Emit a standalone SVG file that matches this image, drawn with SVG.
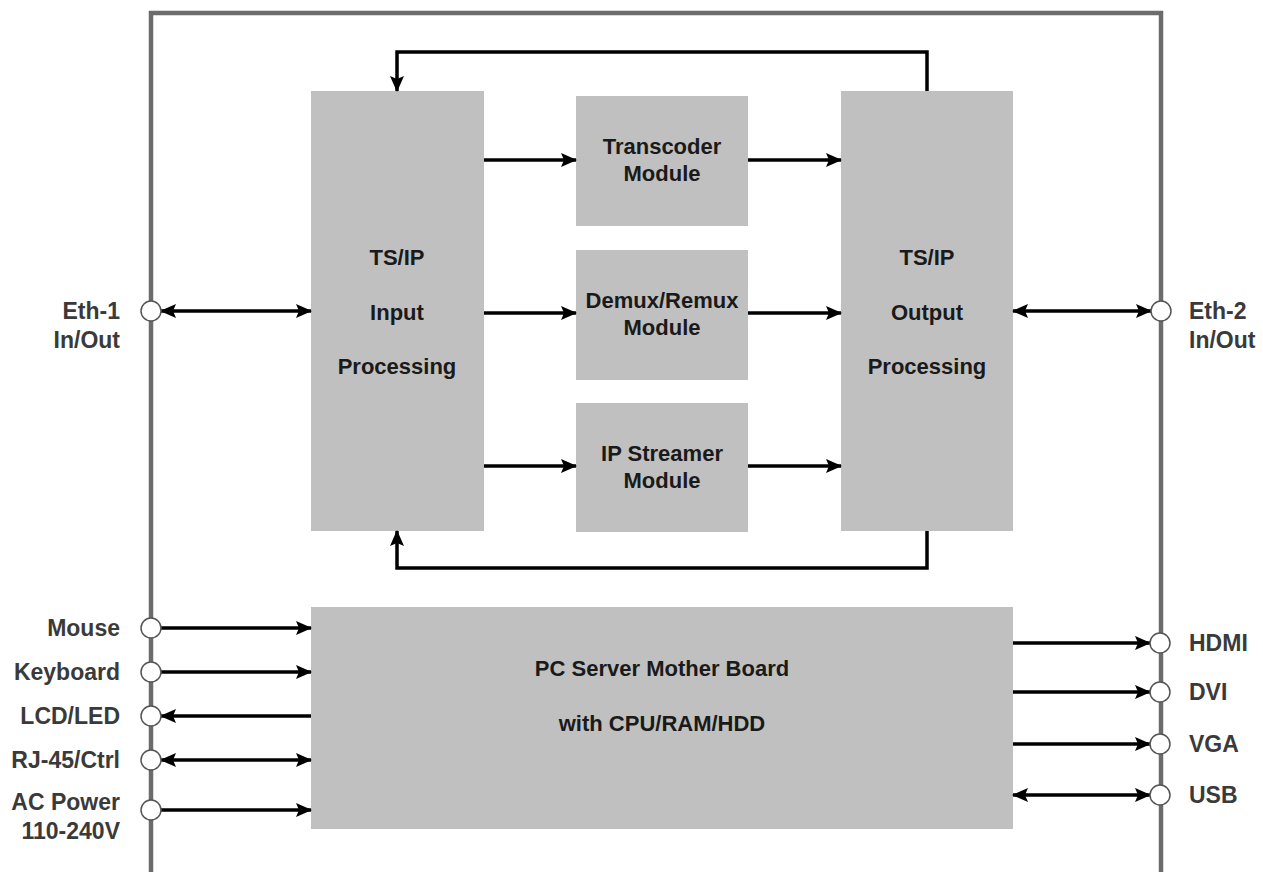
<svg xmlns="http://www.w3.org/2000/svg" width="1263" height="872" viewBox="0 0 1263 872">
  <defs>
    <marker id="arrow" viewBox="0 0 16 14" markerUnits="userSpaceOnUse" markerWidth="16" markerHeight="14" refX="15" refY="7" orient="auto-start-reverse">
      <path d="M0,0 L16,7 L0,14 L3,7 Z" fill="#000"/>
    </marker>
    <style>
      .frame { fill: none; stroke: #6c6c6c; stroke-width: 4.5; }
      .box { fill: #c0c0c0; }
      .port { fill: #fff; stroke: #555; stroke-width: 1.5; }
      .wire { fill: none; stroke: #000; stroke-width: 3.5; }
      .one { marker-end: url(#arrow); }
      .two { marker-start: url(#arrow); marker-end: url(#arrow); }
      .in { font-family: "Liberation Sans", Arial, sans-serif; font-weight: bold; font-size: 22px; fill: #1a1a1a; text-anchor: middle; }
      .lbl { font-family: "Liberation Sans", Arial, sans-serif; font-weight: bold; font-size: 23px; fill: #3a3a3a; }
      .l { text-anchor: end; }
    </style>
  </defs>

  <rect class="frame" x="151" y="13" width="1010" height="872"/>

  <!-- processing blocks -->
  <g id="input-processing">
    <rect class="box" x="311" y="91" width="173" height="440"/>
    <text class="in" x="397" y="265">TS/IP</text>
    <text class="in" x="397" y="320">Input</text>
    <text class="in" x="397" y="374">Processing</text>
  </g>
  <g id="transcoder">
    <rect class="box" x="576" y="96" width="172" height="130"/>
    <text class="in" x="662" y="154">Transcoder</text>
    <text class="in" x="662" y="181">Module</text>
  </g>
  <g id="demux-remux">
    <rect class="box" x="576" y="250" width="172" height="130"/>
    <text class="in" x="662" y="308">Demux/Remux</text>
    <text class="in" x="662" y="335">Module</text>
  </g>
  <g id="ip-streamer">
    <rect class="box" x="576" y="403" width="172" height="129"/>
    <text class="in" x="662" y="461">IP Streamer</text>
    <text class="in" x="662" y="488">Module</text>
  </g>
  <g id="output-processing">
    <rect class="box" x="841" y="91" width="172" height="440"/>
    <text class="in" x="927" y="265">TS/IP</text>
    <text class="in" x="927" y="320">Output</text>
    <text class="in" x="927" y="374">Processing</text>
  </g>
  <g id="motherboard">
    <rect class="box" x="311" y="607" width="702" height="222"/>
    <text class="in" x="662" y="676">PC Server Mother Board</text>
    <text class="in" x="662" y="731">with CPU/RAM/HDD</text>
  </g>

  <!-- connectors -->
  <g id="connectors">
    <path class="wire one" d="M484,160 H576"/>
    <path class="wire one" d="M748,160 H841"/>
    <path class="wire one" d="M484,313 H576"/>
    <path class="wire one" d="M748,313 H841"/>
    <path class="wire one" d="M484,466 H576"/>
    <path class="wire one" d="M748,466 H841"/>
    <path class="wire one" d="M927,91 V52 H397 V91"/>
    <path class="wire one" d="M927,531 V568 H397 V531"/>
    <path class="wire two" d="M161,311 H311"/>
    <path class="wire two" d="M1013,311 H1151"/>
    <path class="wire one" d="M161,628 H311"/>
    <path class="wire one" d="M161,672 H311"/>
    <path class="wire one" d="M311,716 H161"/>
    <path class="wire two" d="M161,760 H311"/>
    <path class="wire one" d="M161,810 H311"/>
    <path class="wire one" d="M1013,643 H1150"/>
    <path class="wire one" d="M1013,692 H1150"/>
    <path class="wire one" d="M1013,744 H1150"/>
    <path class="wire two" d="M1013,795 H1150"/>
  </g>

  <!-- ports on the chassis edge -->
  <g id="port-eth1">
    <circle class="port" cx="151" cy="311" r="10"/>
    <text class="lbl l" x="120" y="319">Eth-1</text>
    <text class="lbl l" x="120" y="348">In/Out</text>
  </g>
  <g id="port-eth2">
    <circle class="port" cx="1161" cy="311" r="10"/>
    <text class="lbl" x="1189" y="319">Eth-2</text>
    <text class="lbl" x="1189" y="348">In/Out</text>
  </g>
  <g id="port-mouse">
    <circle class="port" cx="151" cy="628" r="10"/>
    <text class="lbl l" x="120" y="636">Mouse</text>
  </g>
  <g id="port-keyboard">
    <circle class="port" cx="151" cy="672" r="10"/>
    <text class="lbl l" x="120" y="680">Keyboard</text>
  </g>
  <g id="port-lcd">
    <circle class="port" cx="151" cy="716" r="10"/>
    <text class="lbl l" x="120" y="724">LCD/LED</text>
  </g>
  <g id="port-rj45">
    <circle class="port" cx="151" cy="760" r="10"/>
    <text class="lbl l" x="120" y="768">RJ-45/Ctrl</text>
  </g>
  <g id="port-power">
    <circle class="port" cx="151" cy="810" r="10"/>
    <text class="lbl l" x="120" y="810">AC Power</text>
    <text class="lbl l" x="120" y="839">110-240V</text>
  </g>
  <g id="port-hdmi">
    <circle class="port" cx="1160" cy="643" r="10"/>
    <text class="lbl" x="1189" y="651">HDMI</text>
  </g>
  <g id="port-dvi">
    <circle class="port" cx="1160" cy="692" r="10"/>
    <text class="lbl" x="1189" y="700">DVI</text>
  </g>
  <g id="port-vga">
    <circle class="port" cx="1160" cy="744" r="10"/>
    <text class="lbl" x="1189" y="752">VGA</text>
  </g>
  <g id="port-usb">
    <circle class="port" cx="1160" cy="795" r="10"/>
    <text class="lbl" x="1189" y="803">USB</text>
  </g>
</svg>
